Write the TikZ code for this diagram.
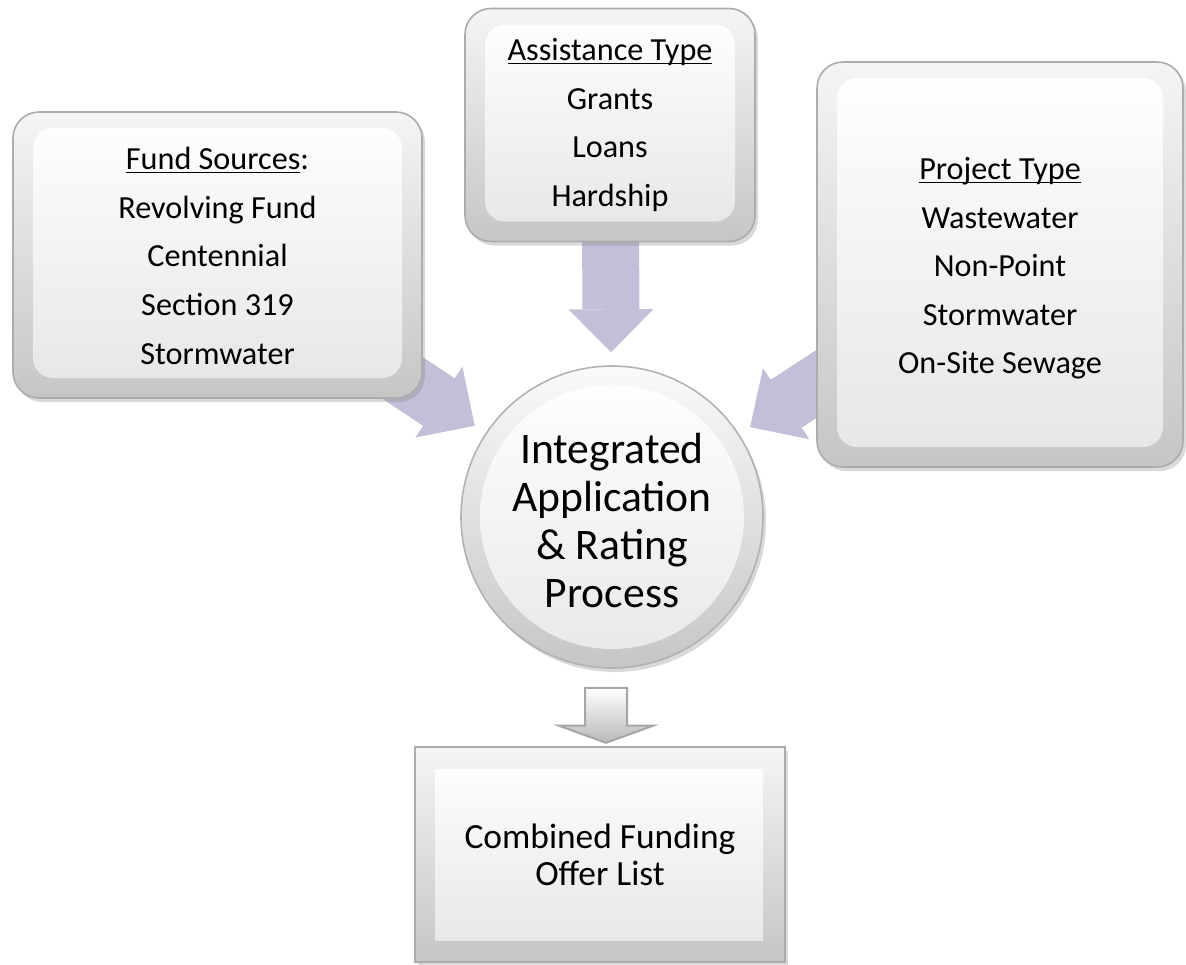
\documentclass[tikz,border=0pt]{standalone}
\usepackage{fontspec}
\setmainfont{Carlito}
\usetikzlibrary{positioning}
\usetikzlibrary{arrows.meta}
\usetikzlibrary{shapes.arrows}
\usetikzlibrary{shadows}
\usetikzlibrary{calc}
\usetikzlibrary{backgrounds}
\definecolor{lavender}{RGB}{197,190,216}
\newcommand\uln[1]{\underline{\smash{#1}}}
\newcommand\pad[1]{\rule{0pt}{#1}}
\tikzset{
  bevelbase/.style={draw=gray!65, line width=0.8pt, top color=gray!8, bottom color=gray!45,
    drop shadow={shadow xshift=1.5pt, shadow yshift=-2pt, opacity=0.3},
    align=center, inner sep=0pt},
  panel/.style={bevelbase, rounded corners=13pt,
    path picture={\shade[top color=white, bottom color=gray!20, rounded corners=10pt]
      ($(path picture bounding box.north west)+(10pt,-8pt)$) rectangle
      ($(path picture bounding box.south east)+(-10pt,10pt)$);},
    font=\fontsize{16.1}{24.3}\selectfont},
  flatpanel/.style={bevelbase,
    path picture={\shade[top color=white, bottom color=gray!20]
      ($(path picture bounding box.north west)+(10pt,-11pt)$) rectangle
      ($(path picture bounding box.south east)+(-11pt,11pt)$);},
    font=\fontsize{17.7}{18.5}\selectfont},
  hub/.style={circle, draw=gray!60, line width=0.8pt, minimum size=151pt, inner sep=0pt,
    top color=gray!4, bottom color=gray!45,
    drop shadow={shadow xshift=1.5pt, shadow yshift=-2pt, opacity=0.3},
    path picture={\shade[top color=white, bottom color=gray!18]
      (path picture bounding box.center) circle (66pt);},
    align=center, font=\fontsize{21.8}{24}\selectfont},
  feed/.style={line width=28.5pt, draw=lavender,
    -{Triangle[width=42.5pt, length=21.5pt, line width=0pt]}, shorten >=6.5pt},
  pointer/.style={single arrow, draw=gray!70, line width=1pt, top color=white, bottom color=gray!55,
    shape border rotate=270, minimum height=27.5pt, inner sep=10pt,
    single arrow head extend=13pt, single arrow tip angle=140}
}
\begin{document}
\begin{tikzpicture}[x=0.5pt, y=-0.5pt, node distance=196.5pt]
		\useasboundingbox (0,0) rectangle (1186,964);
		\node (proc) [hub] at (612,517) {\pad{19pt}Integrated\\Application\\\& Rating\\Process};
		\node (assist) [panel, minimum width=145pt, minimum height=116.5pt, above of = proc, xshift=-1pt, yshift=-0.5pt] {\pad{11pt}\uln{Assistance Type}\\Grants\\Loans\\Hardship};
		\node (fund) [panel, minimum width=204.5pt, minimum height=143pt, left of = proc, xshift=-0.75pt, yshift=131pt] {\pad{12pt}\uln{Fund Sources}:\\Revolving Fund\\Centennial\\Section 319\\Stormwater};
		\node (project) [panel, minimum width=183pt, minimum height=202.5pt, right of = proc, xshift=-2.5pt, yshift=126.25pt] {\pad{15pt}\uln{Project Type}\\Wastewater\\Non-Point\\Stormwater\\On-Site Sewage};
		\node (offer) [flatpanel, minimum width=185pt, minimum height=107.5pt, below of = proc, xshift=-6pt, yshift=27.75pt] {Combined Funding\\Offer List};
		\node (link) [pointer, yshift=-2pt] at ($(proc.south)!0.5!(offer.north)$) {};
		\begin{scope}[on background layer]
		\draw [feed] (fund.center) -- (proc);
		\draw [feed] (assist.center) -- (proc);
		\draw [feed] (project.center) -- (proc);
		\end{scope}
\end{tikzpicture}
\end{document}
